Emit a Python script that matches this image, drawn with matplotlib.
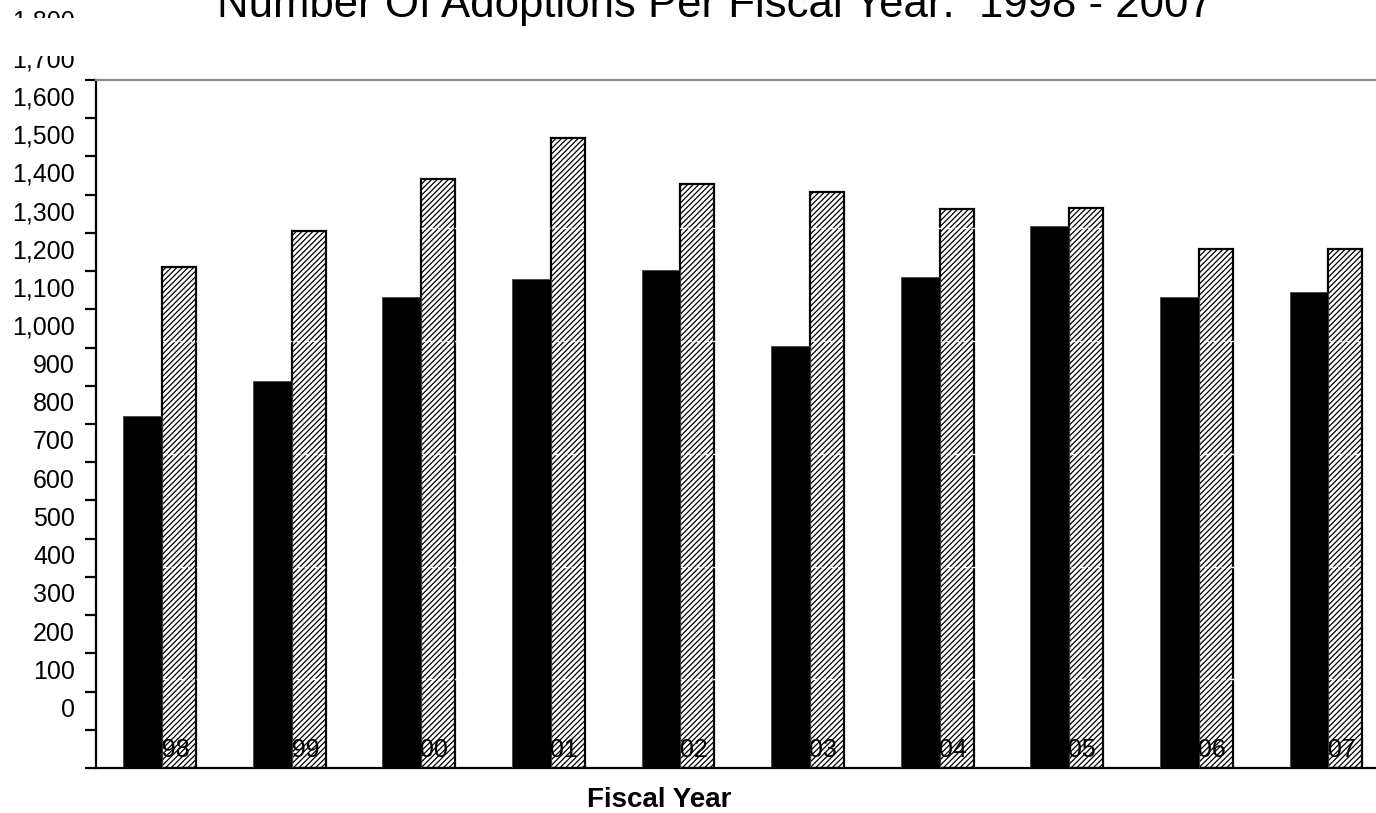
import matplotlib
matplotlib.use("Agg")
import matplotlib.pyplot as plt
import matplotlib.transforms as mtransforms
from matplotlib.patches import Rectangle
import numpy as np

plt.rcParams['font.family'] = ['Liberation Sans', 'DejaVu Sans']
plt.rcParams['hatch.linewidth'] = 0.9

# ---- data ----
years = ["1998", "1999", "2000", "2001", "2002", "2003", "2004", "2005", "2006", "2007"]
series_black = [922, 1013, 1232, 1279, 1304, 1104, 1285, 1418, 1232, 1245]
series_hatched = [1312, 1405, 1542, 1647, 1528, 1506, 1463, 1465, 1358, 1358]
y_ticks = list(range(0, 1801, 100))
y_labels = [f"{v:,}" for v in y_ticks]
grid_levels = [233, 526, 822, 1118, 1413]
title = "Number Of Adoptions Per Fiscal Year:  1998 - 2007"
xlabel = "Fiscal Year"

W, H, DPI = 1376, 813, 100
fig = plt.figure(figsize=(W / DPI, H / DPI), dpi=DPI)
fig.patch.set_facecolor("white")

# axes in pixel layout
ax_left, ax_right, ax_top, ax_bottom = 96, 1392, 80, 768
ax = fig.add_axes([ax_left / W, (H - ax_bottom) / H,
                   (ax_right - ax_left) / W, (ax_bottom - ax_top) / H])

x = np.arange(len(years))
ax.bar(x + 0.01, series_hatched, width=0.262, align="edge", facecolor="white",
       edgecolor="black", hatch="//////", linewidth=1.6, zorder=2)
for g in grid_levels:
    ax.axhline(g, color="white", linestyle=(0, (3, 3)), linewidth=1.0, zorder=2.5)
ax.bar(x - 0.29, series_black, width=0.30, align="edge", facecolor="black",
       edgecolor="#444444", linewidth=0.6, zorder=3)

ax.set_xlim(-0.5, len(years) - 0.5)
ax.set_ylim(0, 1800)

ax.set_yticks(y_ticks)
ax.set_yticklabels([])
ax.tick_params(axis="y", direction="out", length=8, width=1.6, color="black")
ax.set_xticks([])

for s in ["left", "bottom"]:
    ax.spines[s].set_color("black")
    ax.spines[s].set_linewidth(1.6)
ax.spines["top"].set_color("#8a8a8a")
ax.spines["top"].set_linewidth(1.6)
ax.spines["right"].set_visible(False)

# y labels (rendered shifted upward as in the reference)
lab_off = mtransforms.ScaledTranslation(-21 / DPI, 51 / DPI, fig.dpi_scale_trans)
for v, s in zip(y_ticks, y_labels):
    ax.text(0, v, s, transform=ax.get_yaxis_transform() + lab_off,
            ha="right", va="baseline", fontsize=18, color="black", clip_on=False)

# category labels drawn inside the plot, just above the baseline
cat_off = mtransforms.ScaledTranslation(1 / DPI, 11 / DPI, fig.dpi_scale_trans)
for xi, s in zip(x, years):
    ax.text(xi, 0, s, transform=ax.get_xaxis_transform() + cat_off,
            ha="center", va="baseline", fontsize=18, color="black", zorder=6)

# white band near the top that hides parts of the upper labels
fig.patches.append(Rectangle((0, (H - 56.5) / H), 1, 38 / H, transform=fig.transFigure,
                             facecolor="white", edgecolor="none", zorder=5))

fig.text(715 / W, 1 - 17.5 / H, title, ha="center", va="baseline",
         fontsize=31.5, color="black", zorder=10)
fig.text(659 / W, 1 - 807 / H, xlabel, ha="center", va="baseline",
         fontsize=20, fontweight="bold", color="black", zorder=10)

fig.savefig("out.png", dpi=DPI, facecolor="white")
